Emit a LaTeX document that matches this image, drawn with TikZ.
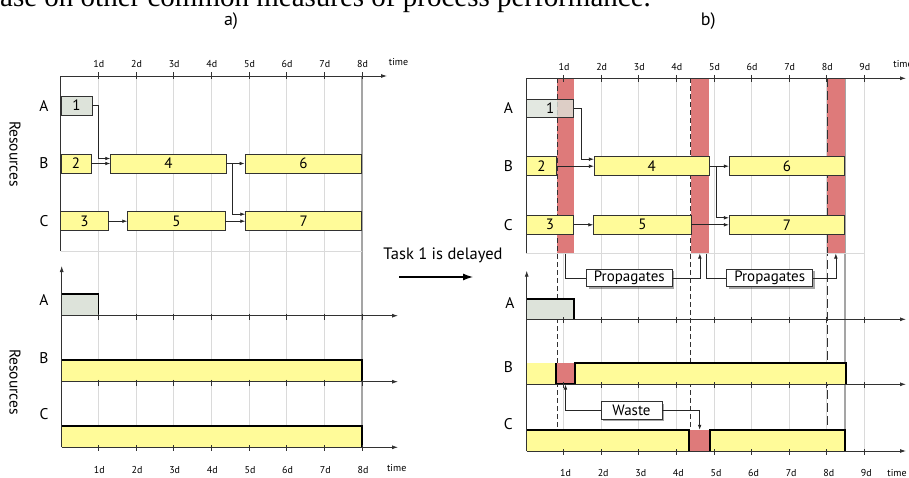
\documentclass[tikz,border=0pt]{standalone}
\usepackage{fontspec}
\setmainfont{PT Sans}
\newfontfamily\serifrm{Liberation Serif}
\usetikzlibrary{arrows.meta,shadows}
\definecolor{taskyel}{RGB}{255,251,153}
\definecolor{taskgray}{RGB}{221,227,218}
\definecolor{bandred}{RGB}{222,122,122}
\definecolor{gridgray}{RGB}{218,218,218}
\definecolor{endgray}{RGB}{165,165,165}
\definecolor{axisgray}{RGB}{50,50,50}
\newcommand\mytask[7]{\node[task,fill=#7,minimum width={#3-#2},minimum height={#5-#4}] (#1) at ({(#2+#3)/2},{(#4+#5)/2}) {#6};}
\begin{document}
\begin{tikzpicture}[x=1pt,y=-1pt,
  task/.style={draw=axisgray, line width=0.9pt, inner sep=0pt, font=\fontsize{15}{15}\selectfont},
  rowlab/.style={font=\fontsize{15.5}{15.5}\selectfont, inner sep=0pt},
  ticklab/.style={font=\fontsize{10}{10}\selectfont, inner sep=0pt},
  gridln/.style={gridgray, line width=0.7pt},
  endln/.style={endgray, line width=1.1pt},
  axisln/.style={axisgray, line width=0.8pt},
  axarrow/.style={axisln, -{Latex[length=6pt,width=4pt]}},
  conn/.style={black!85, line width=0.7pt},
  arr/.style={conn, -{Latex[length=5pt,width=3.6pt]}},
  thickedge/.style={black, line width=1.8pt, line join=miter},
  band/.style={fill=bandred, draw=none, inner sep=0pt},
  bandline/.style={axisgray, line width=0.6pt, dash pattern=on 5pt off 3pt},
  callout/.style={draw=axisgray, fill=white, line width=0.6pt, inner sep=0pt,
     font=\fontsize{15}{15}\selectfont,
     drop shadow={shadow xshift=2pt, shadow yshift=-2pt, fill=black, opacity=0.35}},
]
\useasboundingbox (0,0) rectangle (909,478);
\fill[white] (0,0) rectangle (909,478);

% top cut text
\node[anchor=base west, font=\serifrm\fontsize{29}{29}\selectfont, inner sep=0pt] (toptext) at (0,6.5) {ase on other common measures of process performance.};
\node[font=\fontsize{18}{18}\selectfont, inner sep=0pt] (pa) at (231,20.7) {a)};
\node[font=\fontsize{18}{18}\selectfont, inner sep=0pt] (pb) at (708.3,20.7) {b)};

%================ PANEL A =================
\foreach \d in {1,...,7} \draw[gridln] ({60.7+37.66*\d},76) -- ({60.7+37.66*\d},447.3);
\draw[endln] (362,76) -- (362,447.3);
% top chart frame
\draw[gridln] (60.7,251) -- (362,251);
\draw[axisln] (60.7,251) -- (60.7,76);
\draw[axarrow] (60.7,76) -- (387,76);
\foreach \d in {1,...,8} {
  \draw[axisln] ({60.7+37.66*\d},72.5) -- ({60.7+37.66*\d},79.5);
  \node[ticklab] at ({60.7+37.66*\d+0.5},64.3) {\d d};
  \node[ticklab] at ({60.7+37.66*\d+1},470) {\d d};
}
\node[ticklab] (timea1) at (398.5,62.3) {time};
\node[ticklab] (timea2) at (396.7,468.3) {time};
% tasks
\mytask{a1}{61}{92}{96}{115}{1}{taskgray}
\mytask{a2}{61}{91}{154}{173}{2}{taskyel}
\mytask{a4}{110.7}{226}{154}{173}{4}{taskyel}
\mytask{a6}{245}{361.7}{154}{173}{6}{taskyel}
\mytask{a3}{60.7}{108}{211.7}{230.7}{3}{taskyel}
\mytask{a5}{127.7}{225}{211.7}{230.7}{5}{taskyel}
\mytask{a7}{245.7}{361.7}{211.7}{230.7}{7}{taskyel}
\draw[arr] (a1.east) -- ++(5.7,0) |- ([yshift=5pt]a4.west);
\draw[arr] (a2.east) -- (a4.west);
\draw[arr] (a4.east) -- (a6.west);
\coordinate (ja) at (232.3,163.5);
\draw[arr] (ja) |- ([yshift=7pt]a7.west);
\draw[arr] (a3.east) -- (a5.west);
\draw[arr] (a5.east) -- (a7.west);
\node[rowlab] (laA) at (44,105.5) {A};
\node[rowlab] (laB) at (44,163.5) {B};
\node[rowlab] (laC) at (44,221.5) {C};
\node[rowlab, rotate=-90] (resa1) at (15,154) {Resources};
% lower chart
\fill[taskgray] (61.7,294.3) rectangle (98.4,315.7);
\fill[taskyel] (61.7,360.3) rectangle (362,381.7);
\fill[taskyel] (61.7,426) rectangle (362,447.3);
\draw[thickedge] (61.7,294.3) -- (98.4,294.3) -- (98.4,315.7);
\draw[thickedge] (61.7,360.3) -- (362,360.3) -- (362,381.7);
\draw[thickedge] (61.7,426) -- (362,426) -- (362,447.3);
\foreach \yy in {315.7,381.7,447.3} {
  \draw[axarrow] (61.7,\yy) -- (398,\yy);
  \foreach \d in {1,...,8} \draw[axisln] ({60.7+37.66*\d},\yy-2) -- ({60.7+37.66*\d},\yy+4);
}
\draw[axarrow] (61.7,447.3) -- (61.7,266);
\node[rowlab] (lA2) at (44,300) {A};
\node[rowlab] (lB2) at (44,357.7) {B};
\node[rowlab] (lC2) at (44,414) {C};
\node[rowlab, rotate=-90] (resa2) at (15,382) {Resources};

% delay arrow
\node[font=\fontsize{16.5}{16.5}\selectfont, inner sep=0pt] (delay) at (443,255) {Task 1 is delayed};
\coordinate (dl1) at (399,277);
\coordinate (dl2) at (473,277);
\draw[black, line width=1.3pt, -{Latex[length=10pt,width=7pt]}] (dl1) -- (dl2);

%================ PANEL B =================
\foreach \d in {1,...,9} \draw[gridln] ({526+37.6*\d},78.3) -- ({526+37.6*\d},451);
\draw[endln] (845,78.3) -- (845,451);
\node[band, minimum width=17, minimum height=175] (band1) at (565.5,165.8) {};
\node[band, minimum width=18.3, minimum height=175] (band2) at (699.85,165.8) {};
\node[band, minimum width=17.7, minimum height=175] (band3) at (835.85,165.8) {};
\draw[bandline] (557,78.3) -- (557,430);
\draw[bandline] (690.7,78.3) -- (690.7,430);
\draw[bandline, dash pattern=on 9pt off 4pt] (827,78.3) -- (827,427);
\draw[gridln] (526,253.3) -- (864.4,253.3);
\draw[axisln] (526,253.3) -- (526,78.3);
\draw[axarrow] (526,78.3) -- (906,78.3);
\foreach \d in {1,...,9} {
  \draw[axisln] ({526+37.6*\d},74.8) -- ({526+37.6*\d},81.8);
  \node[ticklab] at ({526+37.6*\d+0.5},66.7) {\d d};
  \node[ticklab] at ({526+37.6*\d+2},473.3) {\d d};
}
\node[ticklab] (timeb1) at (903,64) {time};
\node[ticklab] (timeb2) at (897,473.3) {time};
% tasks
\mytask{b2}{526.3}{556.7}{156.7}{175.7}{2}{taskyel}
\mytask{b4}{594.3}{709.3}{156.7}{175.7}{4}{taskyel}
\mytask{b6}{729.3}{844.7}{156.7}{175.7}{6}{taskyel}
\mytask{b3}{526.3}{573.7}{215.3}{234.3}{3}{taskyel}
\mytask{b5}{593.7}{691}{215.3}{234.3}{5}{taskyel}
\mytask{b7}{729.3}{844.7}{215.3}{234.3}{7}{taskyel}
\node[task, fill=taskgray, fill opacity=0.8, text opacity=1, minimum width=47, minimum height=18.3] (b1) at (550.2,108.2) {1};
\draw[arr] (b1.east) -- ++(7,0) |- ([yshift=7pt]b4.west);
\draw[arr] (b2.east) -- (b4.west);
\draw[arr] (b4.east) -- (b6.west);
\coordinate (jb) at (716,166.2);
\draw[arr] (jb) |- ([yshift=7pt]b7.west);
\draw[arr] (b3.east) -- (b5.west);
\draw[arr] (b5.east) -- (b7.west);
\node[rowlab] (lbA) at (508.3,108.2) {A};
\node[rowlab] (lbB) at (508.3,166.2) {B};
\node[rowlab] (lbC) at (508.3,224.8) {C};
% lower chart
\fill[taskgray] (526.7,299.3) rectangle (574,319.3);
\fill[taskyel] (526.7,363.3) rectangle (556,384.3);
\node[band, minimum width=19, minimum height=21] (redB) at (565.5,373.8) {};
\fill[taskyel] (575,363.3) rectangle (845.7,384.3);
\fill[taskyel] (526.7,430) rectangle (689.3,451);
\node[band, minimum width=20.7, minimum height=21] (redC) at (699.65,440.5) {};
\fill[taskyel] (710,430) rectangle (845,451);
\draw[thickedge] (526.7,299.3) -- (574,299.3) -- (574,319.3);
\draw[thickedge] (556,363.3) -- (556,384.3) -- (575,384.3) -- (575,363.3) -- (845.7,363.3) -- (845.7,384.3);
\draw[thickedge] (526.7,430) -- (689.3,430) -- (689.3,451);
\draw[thickedge] (710,451) -- (710,430) -- (845,430) -- (845,451);
\foreach \yy in {319.3,384.3,451} {
  \draw[axarrow] (526.7,\yy) -- (906,\yy);
  \foreach \d in {1,...,9} \draw[axisln] ({526+37.6*\d},\yy-2) -- ({526+37.6*\d},\yy+4);
}
\draw[axarrow] (526.7,451) -- (526.7,270.7);
\node[rowlab] (lbA2) at (510,303.3) {A};
\node[rowlab] (lbB2) at (508.3,367.3) {B};
\node[rowlab] (lbC2) at (508.3,424) {C};
% callouts
\node[callout, minimum width=85.3, minimum height=17.4] (prop1) at (629.3,278) {Propagates};
\node[callout, minimum width=86, minimum height=17.4] (prop2) at (769.7,278) {Propagates};
\node[callout, minimum width=61, minimum height=17.6] (waste) at (631.5,410.5) {Waste};
\draw[conn] (band1.south) |- (prop1.west);
\draw[arr] (prop1.east) -| (band2.south);
\draw[conn] ([xshift=6pt]band2.south) |- (prop2.west);
\draw[arr] (prop2.east) -| (band3.south);
\draw[arr] (waste.west) -| (redB.south);
\draw[arr] (waste.east) -| (redC.north);
\end{tikzpicture}
\end{document}
